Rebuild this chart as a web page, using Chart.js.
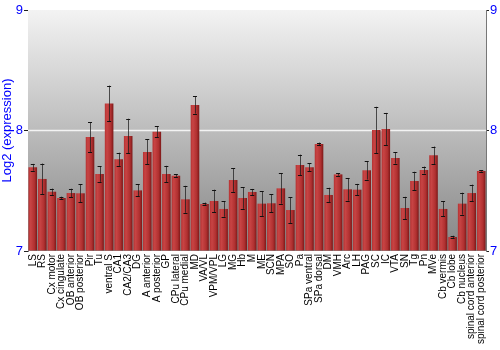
<!DOCTYPE html>
<html>
<head>
<meta charset="utf-8">
<script src="https://cdn.jsdelivr.net/npm/chart.js@4/dist/chart.umd.min.js"></script>
<style>
html,body{margin:0;padding:0;background:#fff;}
#wrap{width:500px;height:350px;position:relative;}
</style>
</head>
<body>
<div id="wrap"><canvas id="c" width="500" height="350"></canvas></div>
<script>
const categories = ["LS","RS","Cx motor","Cx cingulate","OB anterior","OB posterior","Pir","Tu","ventral S","CA1","CA2/CA3","DG","A anterior","A posterior","GP","CPu lateral","CPu medial","MD","VA/VL","VPM/VPL","LG","MG","Hb","M","ME","SCN","MPA","SO","Pa","SPa ventral","SPa dorsal","DM","VMH","Arc","LH","PAG","SC","IC","VTA","SN","Tg","Pn","MVe","Cb vermis","Cb lobe","Cb nucleus","spinal cord anterior","spinal cord posterior"];
const expression = [7.695,7.598,7.492,7.44,7.481,7.479,7.946,7.639,8.225,7.761,7.954,7.503,7.822,7.99,7.639,7.625,7.429,8.212,7.39,7.415,7.349,7.589,7.44,7.49,7.393,7.396,7.52,7.34,7.714,7.695,7.888,7.465,7.636,7.512,7.509,7.67,8.004,8.012,7.772,7.357,7.581,7.672,7.794,7.349,7.116,7.393,7.481,7.664];
const errors = [0.028,0.128,0.026,0.011,0.036,0.073,0.123,0.065,0.148,0.055,0.144,0.05,0.104,0.047,0.068,0.01,0.112,0.072,0.012,0.094,0.065,0.098,0.09,0.025,0.102,0.075,0.127,0.107,0.086,0.035,0.012,0.06,0.011,0.094,0.048,0.077,0.193,0.134,0.047,0.093,0.077,0.029,0.073,0.062,0.011,0.091,0.07,0.006];
const yTicks = [7,8,9];

const BLUE = '#0000ff';
const FONT = '"Liberation Sans", Arial, sans-serif';

function barGradient(c){
  const chart = c.chart;
  const xs = chart.scales.x;
  if(!xs || !chart.chartArea) return '#b53535';
  const cx = xs.getPixelForValue(c.dataIndex);
  const w = (xs.width / categories.length) * 0.9;
  const g = chart.ctx.createLinearGradient(cx - w/2, 0, cx + w/2, 0);
  g.addColorStop(0, '#b53232');
  g.addColorStop(0.25, '#c84444');
  g.addColorStop(0.7, '#b03030');
  g.addColorStop(1, '#7c1818');
  return g;
}

const bgPlugin = {
  id: 'bg',
  beforeDatasetsDraw(chart){
    const {ctx, chartArea:a} = chart;
    const g = ctx.createLinearGradient(0, a.top, 0, a.bottom);
    g.addColorStop(0, '#f3f3f3');
    g.addColorStop(1, '#858585');
    ctx.save();
    ctx.fillStyle = g;
    ctx.fillRect(a.left, a.top, a.right - a.left, a.bottom - a.top);
    // gridline at 8
    const y8 = chart.scales.y.getPixelForValue(8);
    ctx.strokeStyle = 'rgba(245,245,245,0.95)';
    ctx.lineWidth = 1.5;
    ctx.beginPath(); ctx.moveTo(a.left, y8); ctx.lineTo(a.right, y8); ctx.stroke();
    ctx.restore();
  }
};

const errPlugin = {
  id: 'err',
  afterDatasetsDraw(chart){
    const {ctx} = chart;
    const ys = chart.scales.y;
    const meta = chart.getDatasetMeta(0);
    ctx.save();
    meta.data.forEach((el, i) => {
      const x = el.x;
      const yHi = ys.getPixelForValue(expression[i] + errors[i]);
      const yLo = ys.getPixelForValue(expression[i] - errors[i]);
      ctx.strokeStyle = 'rgba(30,30,30,0.75)';
      ctx.lineWidth = 1;
      ctx.beginPath();
      ctx.moveTo(Math.round(x)+0.5, yHi); ctx.lineTo(Math.round(x)+0.5, yLo);
      ctx.stroke();
      ctx.strokeStyle = '#111';
      ctx.beginPath();
      ctx.moveTo(x-2, Math.round(yHi)+0.5); ctx.lineTo(x+2, Math.round(yHi)+0.5);
      ctx.moveTo(x-2, Math.round(yLo)+0.5); ctx.lineTo(x+2, Math.round(yLo)+0.5);
      ctx.stroke();
    });
    ctx.restore();
  }
};

new Chart(document.getElementById('c'), {
  type: 'bar',
  data: {
    labels: categories,
    datasets: [{
      data: expression,
      backgroundColor: barGradient,
      borderWidth: 0,
      categoryPercentage: 1.0,
      barPercentage: 0.9,
      base: 7
    }]
  },
  plugins: [bgPlugin, errPlugin],
  options: {
    responsive: false,
    animation: false,
    devicePixelRatio: 1,
    layout: { padding: { top: 10, bottom: 0, left: 0, right: 0 } },
    plugins: { legend: { display: false }, tooltip: { enabled: false } },
    scales: {
      x: {
        grid: { display: false, drawTicks: false },
        border: { display: false },
        ticks: {
          color: '#000', font: { family: FONT, size: 10 },
          minRotation: 90, maxRotation: 90, autoSkip: false, padding: 3
        },
        afterFit(s){ s.height = 99; }
      },
      y: {
        position: 'left',
        min: 7, max: 9,
        afterBuildTicks(s){ s.ticks = yTicks.map(v => ({value: v})); },
        grid: {
          drawOnChartArea: true,
          color: (c) => c.tick && c.tick.value === 9 ? '#777' : 'rgba(0,0,0,0)',
          tickColor: '#222', tickLength: 4, lineWidth: 1
        },
        border: { display: true, color: '#777', width: 1 },
        ticks: { color: BLUE, font: { family: FONT, size: 13 }, padding: 1 },
        title: { display: true, text: 'Log2 (expression)', color: BLUE, font: { family: FONT, size: 13 }, padding: { top: 0, bottom: 0 } },
        afterFit(s){ s.width = 28; }
      },
      y2: {
        position: 'right',
        min: 7, max: 9,
        afterBuildTicks(s){ s.ticks = yTicks.map(v => ({value: v})); },
        grid: { drawOnChartArea: false, tickColor: '#222', tickLength: 3 },
        border: { display: true, color: '#777', width: 1 },
        ticks: { color: BLUE, font: { family: FONT, size: 13 }, padding: 1 },
        afterFit(s){ s.width = 14; }
      }
    }
  }
});
</script>
</body>
</html>
